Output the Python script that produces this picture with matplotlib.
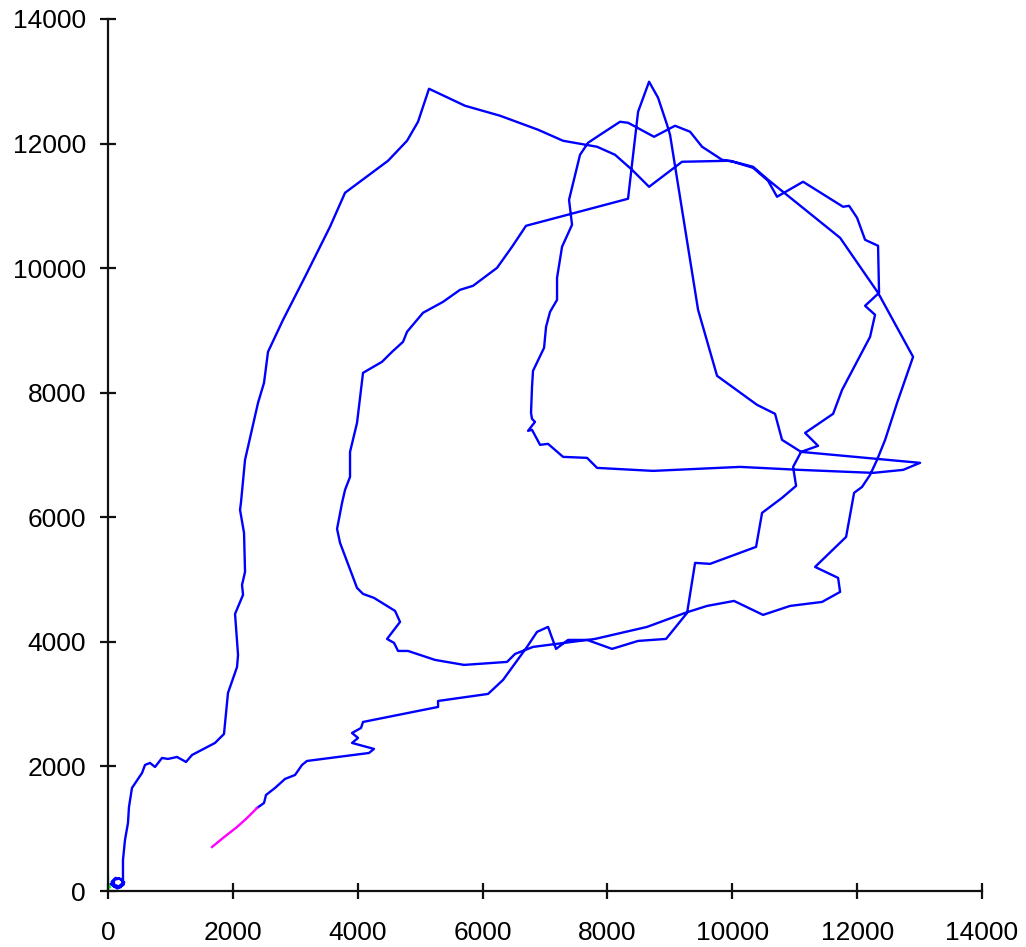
import numpy as np
import matplotlib.pyplot as plt

# track positions (blue = main route)
x_blue = [40, 150, 250, 220, 120, 60, 100, 200, 260, 180, 100, 90, 170, 240,
          240, 240, 272, 320, 336, 384, 545, 593, 673, 753, 865, 961, 1105, 1250,
          1346, 1714, 1858, 1922, 2067, 2083, 2035, 2163, 2147, 2195, 2179, 2115,
          2131, 2195, 2403, 2499, 2563, 2804, 3156, 3556, 3797, 4486, 4790, 4966,
          5142, 5719, 6280, 6889, 7289, 7834, 8122, 8394, 8667, 9195, 9964, 10333,
          10573, 11727, 12335, 12896, 12640, 12448, 12319, 12207, 12079, 11951,
          11823, 11326, 11695, 11727, 11438, 10926, 10493, 10028, 9596, 9244, 8635,
          7802, 6809, 6520, 6392, 5703, 5239, 4806, 4646, 4582, 4470, 4678, 4598,
          4261, 4085, 3989, 3717, 3669, 3749, 3797, 3877, 3877, 3989, 4085, 4389,
          4550, 4726, 4790, 5046, 5367, 5639, 5847, 6232, 6472, 6696, 8330, 8491,
          8667, 8811, 8955, 9003, 9452, 9756, 10397, 10685, 10797, 11102, 13008,
          12736, 12255, 11086, 10125, 8731, 7834, 7674, 7289, 7049, 6921, 6792,
          6728, 6840, 6792, 6776, 6792, 6808, 6985, 7017, 7081, 7193, 7193, 7273,
          7433, 7385, 7561, 7690, 7882, 8202, 8330, 8747, 9083, 9324, 9516, 9836,
          10013, 10333, 10573, 10717, 11134, 11775, 11871, 11999, 12127, 12335,
          12351, 12127, 12287, 12207, 11759, 11615, 11166, 11374, 11102, 10974,
          11022, 10797, 10477, 10381, 9644, 9404, 9276, 8939, 8491, 8074, 7674,
          7369, 7177, 7049, 6872, 6712, 6328, 6088, 5287, 5287, 4085, 4053, 3909,
          4005, 3909, 4261, 4181, 3188, 3108, 2996, 2835, 2675, 2531, 2499, 2387]
y_blue = [110, 40, 100, 190, 210, 150, 70, 60, 140, 200, 180, 110, 70, 130,
          289, 498, 819, 1092, 1349, 1654, 1895, 2024, 2056, 1991, 2136, 2120, 2152,
          2072, 2184, 2377, 2521, 3180, 3597, 3790, 4449, 4754, 4914, 5123, 5749,
          6119, 6247, 6922, 7837, 8158, 8656, 9170, 9861, 10664, 11210, 11724, 12045,
          12350, 12880, 12607, 12447, 12222, 12045, 11949, 11820, 11579, 11306,
          11708, 11724, 11627, 11419, 10487, 9604, 8576, 7837, 7243, 6922, 6681,
          6488, 6392, 5685, 5203, 5027, 4802, 4641, 4577, 4433, 4657, 4577, 4465,
          4240, 4047, 3919, 3806, 3678, 3630, 3710, 3854, 3854, 3983, 4047, 4320,
          4497, 4706, 4770, 4866, 5589, 5814, 6231, 6440, 6649, 7050, 7516, 8319,
          8496, 8656, 8817, 8978, 9283, 9459, 9652, 9716, 10005, 10343, 10680, 11114,
          12511, 12993, 12736, 12302, 12141, 9331, 8271, 7805, 7661, 7243, 7050,
          6874, 6761, 6713, 6761, 6809, 6745, 6793, 6954, 6970, 7179, 7163, 7404,
          7388, 7532, 7580, 7677, 8094, 8351, 8721, 9058, 9299, 9491, 9845, 10343,
          10696, 11097, 11820, 12013, 12141, 12350, 12334, 12109, 12286, 12190,
          11949, 11740, 11708, 11611, 11403, 11146, 11387, 10985, 11001, 10808,
          10455, 10359, 9604, 9395, 9251, 8897, 8046, 7661, 7355, 7147, 7050, 6809,
          6504, 6312, 6071, 5525, 5252, 5268, 4465, 4047, 4015, 3887, 4031, 4031,
          3887, 4240, 4160, 3919, 3389, 3164, 3051, 2955, 2714, 2618, 2537, 2457,
          2377, 2281, 2216, 2088, 2024, 1863, 1799, 1654, 1542, 1413, 1333]

# short magenta stretch at the end
x_mag = [2387, 2227, 2067, 1842, 1666]
y_mag = [1333, 1172, 1028, 851, 707]

# green start marker at the origin
x_green = [0, 0, 30]
y_green = [230, 120, 60]

plt.rcParams['font.family'] = ['Liberation Sans', 'DejaVu Sans']

fig = plt.figure(figsize=(10.26, 9.47), dpi=100)
ax = fig.add_axes([108 / 1026, 56 / 947, 874 / 1026, 872 / 947])

ax.plot(x_blue, y_blue, color='#0000ff', lw=1.7)
ax.plot(x_mag, y_mag, color='#ff00ff', lw=1.7)
ax.plot(x_green, y_green, color='#00ff00', lw=1.7)

ax.set_xlim(0, 14000)
ax.set_ylim(0, 14000)
ticks = np.arange(0, 14001, 2000)
ax.set_xticks(ticks)
ax.set_yticks(ticks)

for s in ['top', 'right']:
    ax.spines[s].set_visible(False)
for s in ['left', 'bottom']:
    ax.spines[s].set_linewidth(1.6)
    ax.spines[s].set_color('#111111')

ax.tick_params(direction='inout', length=11.5, width=1.6, color='#111111',
               labelsize=19)
ax.tick_params(axis='y', pad=10)
ax.tick_params(axis='x', pad=16)

plt.savefig('out.png', dpi=100)
